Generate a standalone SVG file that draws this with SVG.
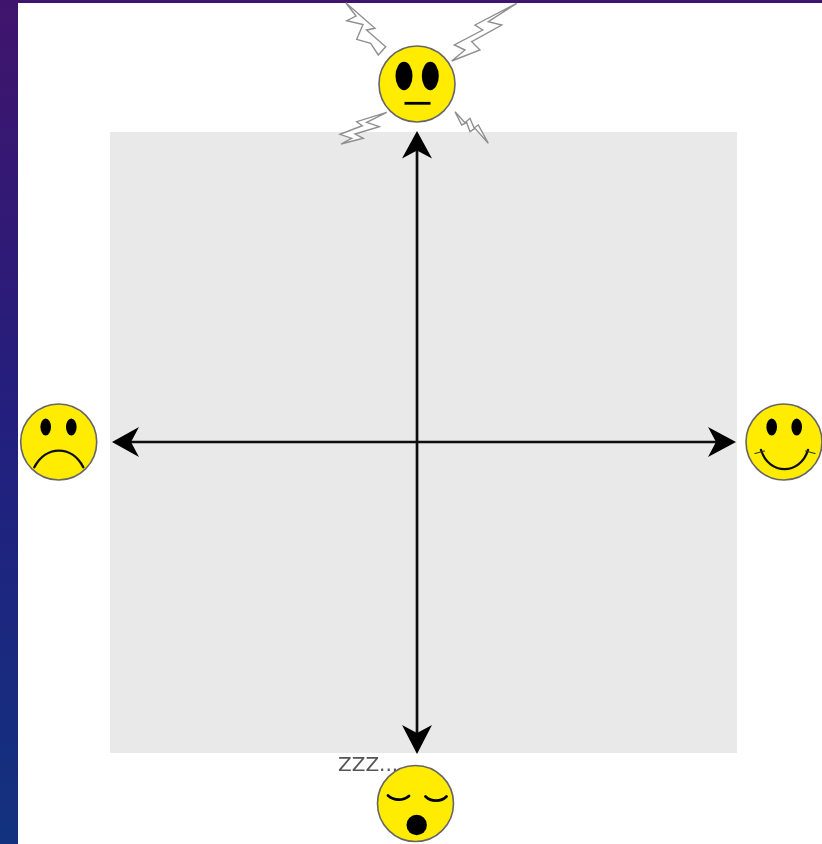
<svg xmlns="http://www.w3.org/2000/svg" width="822" height="844" viewBox="0 0 822 844">
<style>
.face{fill:#ffec00;stroke:#666;stroke-width:1.6}
.ink{fill:#000}
.curve{fill:none;stroke:#111;stroke-width:2.400;stroke-linecap:round}
.tick{fill:none;stroke:#333;stroke-width:1.200;stroke-linecap:round}
.thick{fill:none;stroke:#000;stroke-width:2.800;stroke-linecap:round}
.bolt{fill:#fff;stroke:#8f8f8f;stroke-width:1.400}
.axis{stroke:#111;stroke-width:2.700;fill:none}
.head{fill:#000}
</style>
<defs>
<linearGradient id="bg" x1="0" y1="0" x2="0" y2="1">
<stop offset="0" stop-color="#40146c"/>
<stop offset="0.5" stop-color="#231f7e"/>
<stop offset="1" stop-color="#12327f"/>
</linearGradient>
<filter id="soft" filterUnits="userSpaceOnUse" x="0" y="0" width="822" height="844"><feGaussianBlur stdDeviation="0.6"/></filter>
</defs>
<rect width="822" height="844" fill="url(#bg)"/>
<rect x="18" y="3" width="804" height="841" fill="#fff"/>
<rect id="quadrant" x="110" y="132" width="627" height="621" fill="#e9e9e9"/>
<g id="connectors" filter="url(#soft)">
<line class="axis" x1="128" y1="442" x2="720" y2="442"/>
<line class="axis" x1="417" y1="150" x2="417" y2="735"/>
<path class="head" d="M417 131L432 158.500L417 150.500L402 158.500Z"/>
<path class="head" d="M417 754L432 725L417 733L402 725Z"/>
<path class="head" d="M112 442L139 427L131 442L139 457Z"/>
<path class="head" d="M736 442L708 427L716 442L708 457Z"/>
</g>
<g id="node-top" filter="url(#soft)">
<polygon class="bolt" points="346,3 356,16 346.700,20.700 363,24.500 356.700,39.300 370.700,43.300 378.300,55 385.700,46.700 366.500,30 375,28.300"/>
<polygon class="bolt" points="516.700,3.300 475,25 482.700,30 454.300,45 465,50 451.700,61 480,50 471.700,41.700 501.700,25 488.300,21.700"/>
<polygon class="bolt" points="386.700,112.300 356.700,121.700 362.300,125.700 340,134.300 351.700,138.300 341,144 363.300,138.300 355,134 379.300,126.700 366.700,122.300"/>
<polygon class="bolt" points="455,111.700 461.700,125 466.700,122.700 470,131.700 475,128.300 488.300,143.300 478.300,125 474,128 470,118.300 465,122.700"/>
<circle class="face" cx="417" cy="84" r="38"/>
<ellipse class="ink" cx="404" cy="76" rx="8.500" ry="14.200"/>
<ellipse class="ink" cx="430.300" cy="76" rx="8.500" ry="14.200"/>
<line x1="404.500" y1="103.300" x2="430.500" y2="103.300" stroke="#000" stroke-width="2.800"/>
</g>
<g id="node-left" filter="url(#soft)">
<circle class="face" cx="58.700" cy="442" r="38"/>
<ellipse class="ink" cx="45.700" cy="427" rx="5.300" ry="8.600"/>
<ellipse class="ink" cx="71.300" cy="427" rx="5.300" ry="8.600"/>
<path class="curve" d="M34.300 467.300C46 445 72 445 83.300 467.300"/>
</g>
<g id="node-right" filter="url(#soft)">
<circle class="face" cx="784" cy="442" r="38"/>
<ellipse class="ink" cx="771.700" cy="427" rx="5.300" ry="8.600"/>
<ellipse class="ink" cx="796.700" cy="427" rx="5.300" ry="8.600"/>
<path class="curve" d="M761 450C769 475.500 800 475.500 808 450"/>
<path class="tick" d="M755 453.500L764.500 451M815 453.500L805.500 451"/>
</g>
<g id="node-bottom" filter="url(#soft)">
<text x="338" y="771" font-family="'DejaVu Sans','Liberation Sans',sans-serif" font-size="20" fill="#555">ZZZ...</text>
<circle class="face" cx="415.500" cy="803.500" r="38"/>
<path class="thick" d="M388 795.500C394 801 403 801 409 796"/>
<path class="thick" d="M425.500 796.500C431 802 441 802 446.500 796.500"/>
<ellipse class="ink" cx="416.700" cy="825" rx="10.200" ry="10.200"/>
</g>
</svg>
